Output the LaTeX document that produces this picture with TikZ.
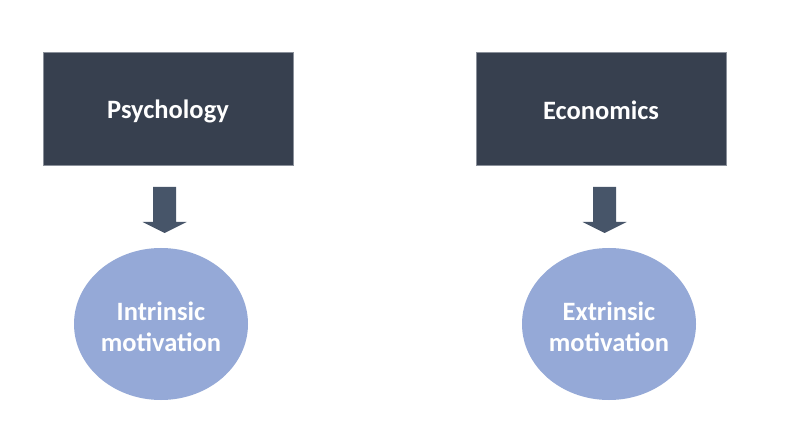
\documentclass[tikz,border=0pt]{standalone}
\usepackage{fontspec}
\setmainfont{Carlito}
\usetikzlibrary{shapes.geometric,calc}
\definecolor{boxc}{HTML}{37404F}
\definecolor{boxline}{HTML}{8A909A}
\definecolor{arrowc}{HTML}{475569}
\definecolor{ellc}{HTML}{95A9D7}
\begin{document}
\begin{tikzpicture}[x=1pt,y=-1pt,
  lbl/.style={text=white,align=center,inner sep=0pt,font=\bfseries\fontsize{26.5}{31}\selectfont},
  topbox/.style={draw=boxline,line width=0.6pt,fill=boxc,minimum width=250pt,minimum height=113pt,inner sep=0pt},
  oval/.style={ellipse,fill=ellc,minimum width=174pt,minimum height=152pt,inner sep=0pt},
  blockarrow/.style={fill=arrowc}]
\useasboundingbox (0,0) rectangle (798,422);
\fill[white] (0,0) rectangle (798,422);
\node[topbox,label={[lbl,yshift=-3pt]center:Psychology}] (psy) at (168,108.5) {};
\node[topbox,label={[lbl,yshift=-2pt]center:Economics}] (eco) at (601,108.5) {};
\node[oval,label={[lbl,yshift=-3pt]center:Intrinsic\\motivation}] (intr) at (161,324) {};
\node[oval,label={[lbl,yshift=-3pt]center:Extrinsic\\motivation}] (extr) at (609,324) {};
\coordinate (a1) at (164.5,187);
\coordinate (a2) at (604.5,187);
\foreach \c in {a1,a2}{
  \fill[blockarrow] ($(\c)+(-11.5,0)$) -- ($(\c)+(11.5,0)$) -- ($(\c)+(11.5,35)$) -- ($(\c)+(22,35)$) -- ($(\c)+(0,46)$) -- ($(\c)+(-22,35)$) -- ($(\c)+(-11.5,35)$) -- cycle;
}
\end{tikzpicture}
\end{document}
